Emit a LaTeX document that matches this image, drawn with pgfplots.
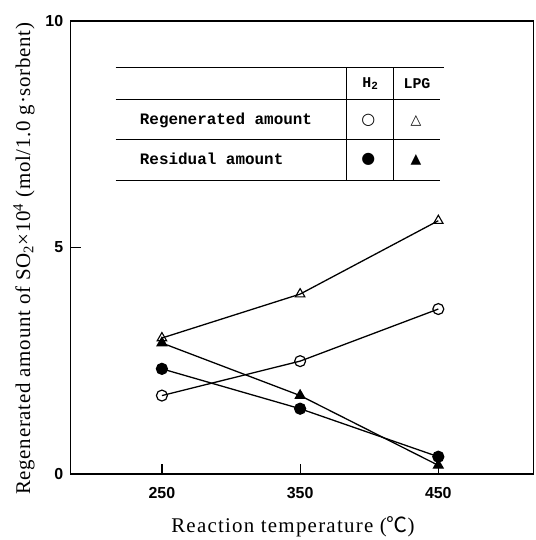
\documentclass[border=0pt]{standalone}
\usepackage{fontspec}
\setmainfont{Liberation Serif}
\newfontfamily\xlabfont{Liberation Serif}[LetterSpace=6]
\newfontfamily\ylabfont{Liberation Serif}[LetterSpace=3.5]
\newfontfamily\tickfont{Liberation Sans}
\newfontfamily\legfont{Liberation Mono}
\newfontfamily\symfont{DejaVu Sans}
\newfontfamily\cjk{Noto Sans CJK SC}
\usepackage{pgfplots}
\pgfplotsset{compat=1.18}
\begin{document}
\begin{tikzpicture}
\begin{axis}[
  scale only axis, width=465bp, height=455bp,
  xmin=184, xmax=519, ymin=0, ymax=10,
  xtick={250,350,450}, ytick={0,5,10},
  tick pos=left, tick align=inside,
  major tick length=10bp,
  axis line style={line width=1.6bp},
  every tick/.style={line width=1.2bp, black},
  /pgf/number format/assume math mode=true,
  ticklabel style={font=\fontsize{16bp}{16bp}\selectfont\tickfont\bfseries},
  xticklabel style={yshift=-10bp},
  yticklabel style={xshift=-4bp},
  clip=false,
  xlabel={Reaction temperature ({\cjk ℃})},
  ylabel={Regenerated amount of SO\textsubscript{2}×10\textsuperscript{4} (mol/1.0 g·sorbent)},
  every axis x label/.style={at={(axis description cs:0.48,-0.116)}, anchor=center, font=\fontsize{21bp}{23bp}\selectfont\xlabfont},
  every axis y label/.style={at={(axis description cs:-0.101,0.475)}, anchor=center, rotate=90, font=\fontsize{21bp}{23bp}\selectfont\ylabfont},
]
% LPG regenerated (open triangle)
\addplot[black, line width=1.3bp, mark=triangle, mark size=5.5bp, mark options={fill=white, line width=1.1bp}] coordinates {(250,3.00) (350,3.97) (450,5.59)};
% H2 regenerated (open circle)
\addplot[black, line width=1.3bp, mark=o, mark size=5.5bp, mark options={fill=white, line width=1.2bp}] coordinates {(250,1.73) (350,2.49) (450,3.64)};
% H2 residual (filled circle)
\addplot[black, line width=1.3bp, mark=*, mark size=5.5bp] coordinates {(250,2.32) (350,1.44) (450,0.38)};
% LPG residual (filled triangle)
\addplot[black, line width=1.3bp, mark=triangle*, mark size=5.5bp] coordinates {(250,2.89) (350,1.73) (450,0.19)};
% legend table
\draw[line width=1.3bp] (axis description cs:0.097,0.897) -- (axis description cs:0.806,0.897);
\draw[line width=1.3bp] (axis description cs:0.097,0.826) -- (axis description cs:0.798,0.826);
\draw[line width=1.3bp] (axis description cs:0.097,0.738) -- (axis description cs:0.798,0.738);
\draw[line width=1.3bp] (axis description cs:0.097,0.648) -- (axis description cs:0.798,0.648);
\draw[line width=1.3bp] (axis description cs:0.596,0.897) -- (axis description cs:0.596,0.648);
\draw[line width=1.3bp] (axis description cs:0.697,0.897) -- (axis description cs:0.697,0.648);
\node[font=\fontsize{15bp}{15bp}\selectfont\legfont\bfseries] at (axis description cs:0.647,0.862) {H\raisebox{-0.2ex}{\fontsize{11bp}{11bp}\selectfont 2}};
\node[font=\fontsize{15bp}{15bp}\selectfont\legfont\bfseries] at (axis description cs:0.748,0.862) {LPG};
\node[anchor=west, font=\fontsize{16bp}{16bp}\selectfont\legfont\bfseries] at (axis description cs:0.142,0.781) {Regenerated amount};
\node[anchor=west, font=\fontsize{16bp}{16bp}\selectfont\legfont\bfseries] at (axis description cs:0.142,0.696) {Residual amount};
\node[font=\fontsize{16bp}{16bp}\selectfont\symfont\bfseries] at (axis description cs:0.643,0.780) {○};
\node[font=\fontsize{14bp}{14bp}\selectfont\symfont\bfseries] at (axis description cs:0.746,0.780) {△};
\node[font=\fontsize{16bp}{16bp}\selectfont\symfont] at (axis description cs:0.643,0.694) {●};
\node[font=\fontsize{14bp}{14bp}\selectfont\symfont] at (axis description cs:0.746,0.694) {▲};
\path (rel axis cs:0,0) ++(-71bp,-64bp) coordinate (bbA);
\path (rel axis cs:1,1) ++(2bp,21bp) coordinate (bbB);
\end{axis}
\end{tikzpicture}
\end{document}
